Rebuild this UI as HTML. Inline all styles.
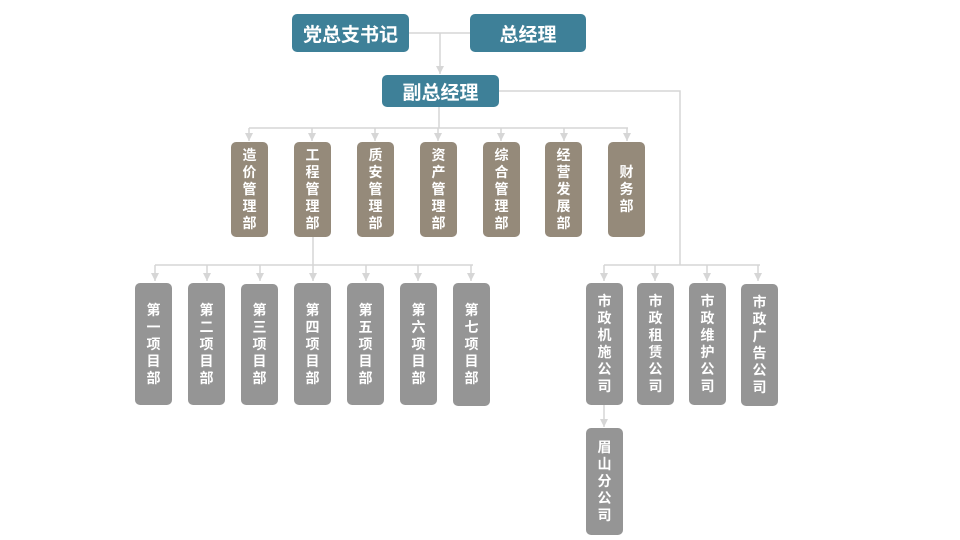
<!DOCTYPE html>
<html><head><meta charset="utf-8"><style>
body{margin:0;width:960px;height:540px;background:#fff;position:relative;overflow:hidden;font-family:"Liberation Sans","Noto Sans CJK SC",sans-serif;}
.b{position:absolute;color:#fff;font-weight:bold;display:flex;align-items:center;justify-content:center;text-align:center;border-radius:5px;}
.t{background:#3e8098;font-size:19px;}
.v{font-size:14px;line-height:17px;width:37px;}
.br{background:#958a7a;}
.g{background:#959595;}
svg{position:absolute;left:0;top:0}
</style></head><body>
<svg width="960" height="540" fill="none" stroke="#d6d6d6" stroke-width="1.5">
<defs><marker id="a" markerWidth="9" markerHeight="9" refX="8" refY="4" orient="auto" markerUnits="userSpaceOnUse"><path d="M0,0 L8,4 L0,8z" fill="#d6d6d6" stroke="none"/></marker></defs>
<path d="M409 33H470M440 33V74" marker-end="url(#a)"/>
<path d="M439 107V128M249 128H628"/>
<g marker-end="url(#a)">
<path d="M249 128V141"/><path d="M312 128V141"/><path d="M375 128V141"/><path d="M438 128V141"/><path d="M501 128V141"/><path d="M564 128V141"/><path d="M627 128V141"/>
</g>
<path d="M313 237V265M155 265H473"/>
<g marker-end="url(#a)">
<path d="M155 265V281"/><path d="M207 265V281"/><path d="M260 265V281"/><path d="M313 265V281"/><path d="M366 265V281"/><path d="M418 265V281"/><path d="M471 265V281"/>
</g>
<path d="M499 91H680V265M604 265H760"/>
<g marker-end="url(#a)">
<path d="M604 265V281"/><path d="M655 265V281"/><path d="M707 265V281"/><path d="M758 265V281"/>
<path d="M604 405V427"/>
</g>
</svg>
<div class="b t" style="left:292px;top:14px;width:117px;height:38px">党总支书记</div>
<div class="b t" style="left:470px;top:14px;width:116px;height:38px">总经理</div>
<div class="b t" style="left:382px;top:75px;width:117px;height:32px">副总经理</div>

<div class="b v br" style="left:231px;top:142px;height:95px">造<br>价<br>管<br>理<br>部</div>
<div class="b v br" style="left:294px;top:142px;height:95px">工<br>程<br>管<br>理<br>部</div>
<div class="b v br" style="left:357px;top:142px;height:95px">质<br>安<br>管<br>理<br>部</div>
<div class="b v br" style="left:420px;top:142px;height:95px">资<br>产<br>管<br>理<br>部</div>
<div class="b v br" style="left:483px;top:142px;height:95px">综<br>合<br>管<br>理<br>部</div>
<div class="b v br" style="left:545px;top:142px;height:95px">经<br>营<br>发<br>展<br>部</div>
<div class="b v br" style="left:608px;top:142px;height:95px">财<br>务<br>部</div>

<div class="b v g" style="left:135px;top:283px;height:122px">第<br>一<br>项<br>目<br>部</div>
<div class="b v g" style="left:188px;top:283px;height:122px">第<br>二<br>项<br>目<br>部</div>
<div class="b v g" style="left:241px;top:284px;height:121px">第<br>三<br>项<br>目<br>部</div>
<div class="b v g" style="left:294px;top:283px;height:122px">第<br>四<br>项<br>目<br>部</div>
<div class="b v g" style="left:347px;top:283px;height:122px">第<br>五<br>项<br>目<br>部</div>
<div class="b v g" style="left:400px;top:283px;height:122px">第<br>六<br>项<br>目<br>部</div>
<div class="b v g" style="left:453px;top:283px;height:123px">第<br>七<br>项<br>目<br>部</div>

<div class="b v g" style="left:586px;top:283px;height:122px">市<br>政<br>机<br>施<br>公<br>司</div>
<div class="b v g" style="left:637px;top:283px;height:122px">市<br>政<br>租<br>赁<br>公<br>司</div>
<div class="b v g" style="left:689px;top:283px;height:122px">市<br>政<br>维<br>护<br>公<br>司</div>
<div class="b v g" style="left:741px;top:284px;height:122px">市<br>政<br>广<br>告<br>公<br>司</div>
<div class="b v g" style="left:586px;top:428px;height:107px">眉<br>山<br>分<br>公<br>司</div>
</body></html>
